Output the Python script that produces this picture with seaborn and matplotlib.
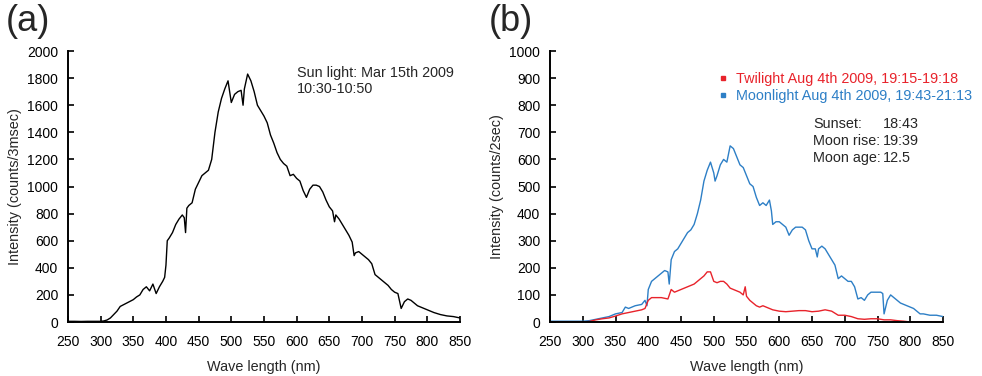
import matplotlib

matplotlib.use("Agg")

import matplotlib.pyplot as plt
from matplotlib.lines import Line2D
import pandas as pd
import seaborn as sns

# ── Data ──────────────────────────────────────────────────────────────────

# (a) sun light, counts/3msec
wl_sun = [250, 260, 270, 280, 290, 300, 305, 310, 315, 320, 325, 330, 340, 350, 355,
          360, 365, 370, 375, 380, 385, 390, 395, 398, 400, 402, 405, 410, 415, 420,
          425, 428, 430, 432, 435, 440, 445, 450, 455, 460, 465, 470, 475, 480, 485,
          490, 495, 500, 505, 510, 515, 518, 520, 525, 530, 535, 540, 545, 550, 555,
          560, 565, 570, 575, 580, 585, 590, 595, 600, 605, 610, 615, 620, 625, 630,
          635, 640, 645, 650, 655, 658, 660, 665, 670, 675, 680, 685, 688, 690, 695,
          700, 705, 710, 715, 720, 725, 730, 735, 740, 745, 750, 755, 760, 765, 770,
          775, 780, 785, 790, 795, 800, 810, 820, 830, 840, 850]
sun = [5, 5, 4, 5, 5, 5, 8, 15, 30, 55, 80, 115, 140, 165, 185,
       200, 240, 260, 230, 280, 210, 260, 300, 330, 420, 600, 620, 660, 720, 760,
       790, 770, 660, 840, 860, 880, 980, 1030, 1080, 1100, 1120, 1200, 1400, 1550, 1650,
       1720, 1780, 1620, 1680, 1700, 1710, 1600, 1720, 1830, 1780, 1700, 1600, 1560, 1520, 1470,
       1380, 1320, 1250, 1200, 1170, 1150, 1080, 1090, 1060, 1040, 970, 920, 980, 1010, 1010,
       1000, 960, 900, 850, 820, 740, 790, 760, 720, 680, 640, 590, 490, 510, 520,
       500, 480, 460, 430, 350, 330, 310, 290, 270, 240, 220, 210, 100, 150, 170,
       160, 140, 120, 110, 100, 90, 70, 55, 45, 40, 30]

# (b) twilight and moonlight, counts/2sec
wl_twi = [250, 270, 290, 300, 310, 320, 330, 340, 350, 360, 370, 380, 390, 395, 400,
          405, 410, 420, 430, 435, 440, 450, 460, 470, 480, 485, 490, 495, 500, 505,
          510, 515, 520, 525, 530, 535, 540, 545, 548, 550, 555, 560, 565, 570, 575,
          580, 590, 600, 610, 620, 630, 640, 650, 660, 670, 680, 690, 700, 710, 720,
          730, 740, 750, 760, 770, 780, 790, 800, 820, 850]
twilight = [0, 0, 0, 0, 2, 8, 12, 15, 22, 30, 35, 40, 45, 50, 80,
            90, 90, 90, 85, 120, 110, 120, 130, 140, 160, 170, 185, 185, 150, 145,
            150, 150, 140, 125, 120, 115, 110, 100, 130, 95, 80, 70, 60, 55, 60,
            55, 45, 40, 38, 40, 42, 42, 38, 40, 45, 40, 25, 25, 20, 12,
            10, 12, 12, 8, 8, 5, 3, 0, 0, 0]

wl_moon = [250, 270, 290, 300, 310, 320, 330, 340, 350, 360, 365, 370, 380, 390, 395,
           398, 400, 405, 410, 420, 425, 430, 432, 435, 440, 445, 450, 455, 460, 465,
           470, 475, 480, 485, 490, 495, 500, 502, 505, 510, 515, 520, 525, 530, 535,
           540, 545, 550, 555, 560, 565, 570, 575, 580, 585, 588, 590, 595, 600, 605,
           610, 615, 620, 625, 630, 635, 640, 645, 650, 655, 658, 660, 665, 670, 675,
           680, 685, 690, 695, 700, 705, 710, 715, 720, 725, 730, 735, 740, 745, 750,
           755, 758, 760, 765, 770, 775, 780, 785, 790, 795, 800, 805, 810, 815, 820,
           830, 840, 850]
moon = [3, 3, 3, 3, 5, 10, 15, 20, 30, 35, 55, 50, 60, 65, 80,
        60, 120, 150, 160, 180, 190, 185, 140, 230, 260, 270, 290, 310, 330, 340,
        360, 400, 450, 520, 560, 590, 550, 520, 540, 580, 600, 590, 650, 640, 610,
        580, 570, 540, 510, 500, 460, 430, 440, 430, 450, 410, 360, 370, 370, 360,
        350, 320, 340, 350, 350, 350, 340, 300, 270, 270, 240, 270, 280, 270, 250,
        230, 210, 160, 170, 160, 150, 150, 130, 85, 90, 80, 100, 110, 110, 110,
        110, 105, 30, 80, 100, 90, 80, 70, 65, 60, 55, 50, 40, 30, 30,
        25, 25, 20]

x_ticks = list(range(250, 851, 50))

RED = "#e8232b"
BLUE = "#2d7fc6"
FS_TICK = 10
FS = 10.4

# ── Plot ──────────────────────────────────────────────────────────────────

sns.set_style("ticks")
plt.rcParams["font.family"] = ["Liberation Sans", "DejaVu Sans"]
plt.rcParams["font.size"] = FS

fig = plt.figure(figsize=(9.82, 3.76), dpi=100)
ax_a = fig.add_axes([0.0692, 0.1436, 0.3992, 0.7207])
ax_b = fig.add_axes([0.5601, 0.1436, 0.4002, 0.7207])

df_sun = pd.DataFrame({"wl": wl_sun, "val": sun})
df_twi = pd.DataFrame({"wl": wl_twi, "val": twilight})
df_moon = pd.DataFrame({"wl": wl_moon, "val": moon})

sns.lineplot(data=df_sun, x="wl", y="val", color="black", linewidth=1.0, ax=ax_a)
sns.lineplot(data=df_moon, x="wl", y="val", color=BLUE, linewidth=1.0, ax=ax_b)
sns.lineplot(data=df_twi, x="wl", y="val", color=RED, linewidth=1.0, ax=ax_b)

for ax, ymax, ystep, ylabel in [
    (ax_a, 2000, 200, "Intensity (counts/3msec)"),
    (ax_b, 1000, 100, "Intensity (counts/2sec)"),
]:
    ax.set_xlim(250, 850)
    ax.set_ylim(0, ymax)
    ax.set_xticks(x_ticks)
    ax.set_yticks(range(0, ymax + 1, ystep))
    ax.set_xlabel("Wave length (nm)", fontsize=FS, labelpad=8)
    ax.set_ylabel(ylabel, fontsize=FS, labelpad=4)
    ax.tick_params(direction="in", length=4, width=1.2, labelsize=FS_TICK, colors="black")
    ax.tick_params(axis="x", pad=9)
    ax.tick_params(axis="y", pad=7)
    for side in ("left", "bottom"):
        ax.spines[side].set_linewidth(1.4)
        ax.spines[side].set_color("black")
    sns.despine(ax=ax)

ax_a.text(0.584, 0.920, "Sun light: Mar 15th 2009", transform=ax_a.transAxes,
          fontsize=FS, va="center", ha="left")
ax_a.text(0.584, 0.861, "10:30-10:50", transform=ax_a.transAxes,
          fontsize=FS, va="center", ha="left")

handles = [
    Line2D([], [], color=RED, marker="s", markersize=2.5, linestyle="none",
           label="Twilight Aug 4th 2009, 19:15-19:18"),
    Line2D([], [], color=BLUE, marker="s", markersize=2.5, linestyle="none",
           label="Moonlight Aug 4th 2009, 19:43-21:13"),
]
ax_b.legend(handles=handles, loc="upper left", bbox_to_anchor=(0.43, 0.922), frameon=False,
            fontsize=FS, handlelength=0.6, handletextpad=0.6, labelspacing=0.2,
            borderpad=0, borderaxespad=0, labelcolor="linecolor")

for frac, left, right in [(0.732, "Sunset:", "18:43"),
                          (0.669, "Moon rise:", "19:39"),
                          (0.606, "Moon age:", "12.5")]:
    ax_b.text(0.669, frac, left, transform=ax_b.transAxes, fontsize=FS,
              va="center", ha="left")
    ax_b.text(0.847, frac, right, transform=ax_b.transAxes, fontsize=FS,
              va="center", ha="left")

fig.text(0.006, 0.99, "(a)", fontsize=26, va="top", ha="left")
fig.text(0.498, 0.99, "(b)", fontsize=26, va="top", ha="left")

fig.savefig("out.png", dpi=100)
plt.close(fig)
